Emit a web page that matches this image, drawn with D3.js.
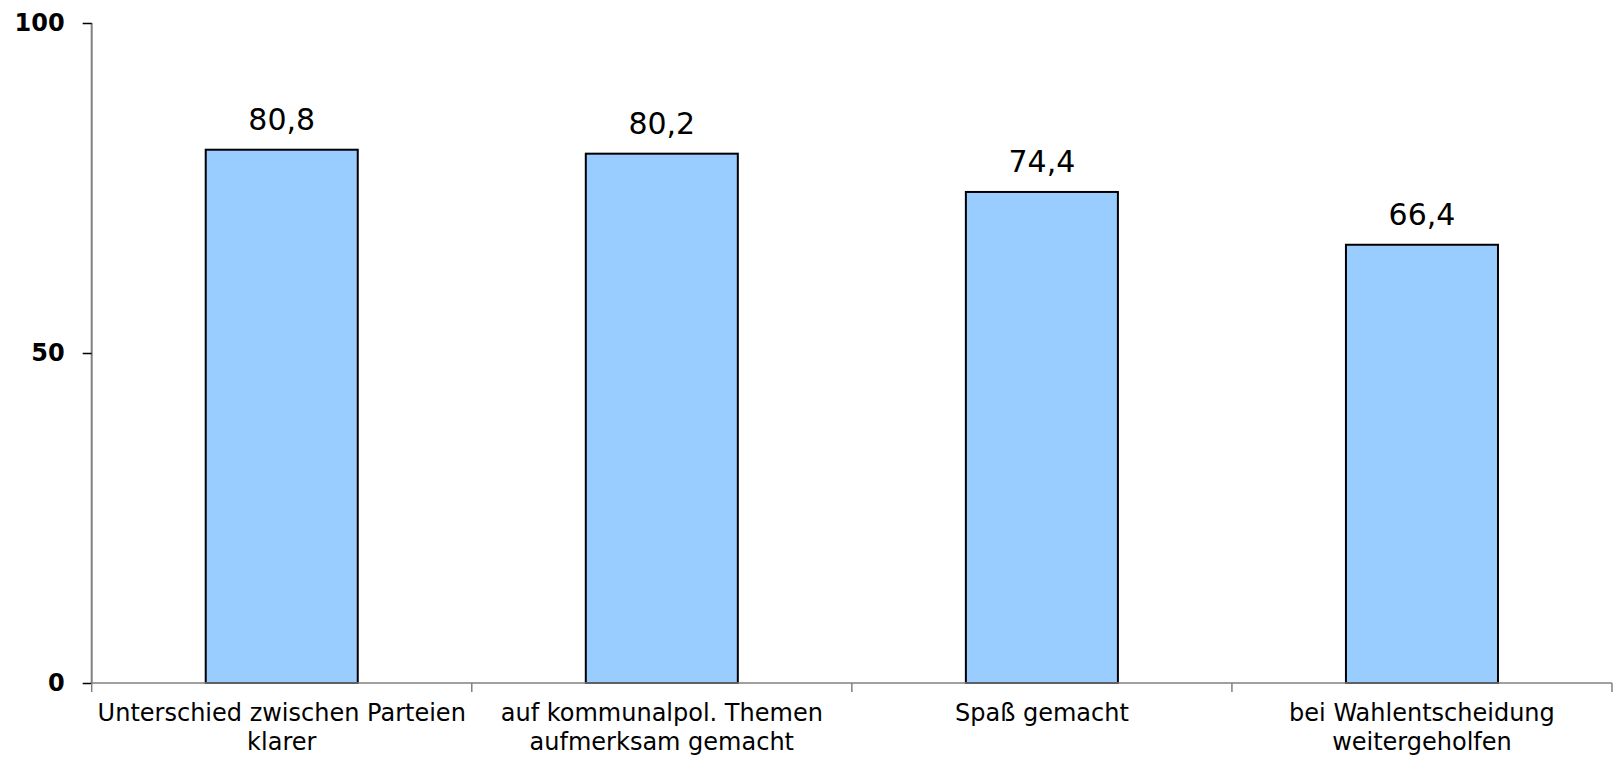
<!DOCTYPE html>
<html><head><meta charset="utf-8">
<script src="https://cdn.jsdelivr.net/npm/d3@7/dist/d3.min.js"></script>
<style>body{margin:0;background:#fff}svg{display:block}</style>
</head><body>
<svg id="chart" width="1613" height="761"></svg>
<script>
const categories = [
  ["Unterschied zwischen Parteien", "klarer"],
  ["auf kommunalpol. Themen", "aufmerksam gemacht"],
  ["Spaß gemacht"],
  ["bei Wahlentscheidung", "weitergeholfen"]
];
const values = [80.8, 80.2, 74.4, 66.4];
const yTicks = [0, 50, 100];

(function () {
const svg = d3.select("#chart");
const mLeft = 91.7, mRight = 1612, mTop = 23, mBottom = 683;
const ids = categories.map((c, i) => i);
const x = d3.scaleBand().domain(ids).range([mLeft, mRight]).paddingInner(0).paddingOuter(0);
const y = d3.scaleLinear().domain([0, 100]).range([mBottom, mTop]);
const font = "'DejaVu Sans', Verdana, sans-serif";
const axisColor = "#808080";

// bars
svg.selectAll("rect.bar").data(values).join("rect")
  .attr("class", "bar")
  .attr("x", (d, i) => x(i) + x.bandwidth() * 0.3)
  .attr("width", x.bandwidth() * 0.4)
  .attr("y", d => y(d))
  .attr("height", d => y(0) - y(d))
  .attr("fill", "#99CCFF")
  .attr("stroke", "#000")
  .attr("stroke-width", 2);

// value labels
svg.selectAll("text.val").data(values).join("text")
  .attr("class", "val")
  .attr("x", (d, i) => x(i) + x.bandwidth() / 2)
  .attr("y", d => y(d) - 20)
  .attr("text-anchor", "middle")
  .attr("font-family", font)
  .attr("font-size", 30)
  .attr("fill", "#000")
  .text(d => d.toFixed(1).replace(".", ","));

// y axis
const yAxis = d3.axisLeft(y).tickValues(yTicks).tickSize(9).tickPadding(18);
const gy = svg.append("g").attr("transform", `translate(${mLeft},0)`).call(yAxis);
gy.select(".domain").attr("stroke", axisColor).attr("stroke-width", 2).attr("d", `M0,${mTop}V${mBottom}`);
gy.selectAll(".tick line").attr("stroke", "#000").attr("stroke-width", 1.5);
gy.selectAll(".tick text").attr("font-family", font).attr("font-size", 24).attr("font-weight", "bold").attr("fill", "#000");

// x axis
const xAxis = d3.axisBottom(x).tickSize(0).tickFormat("");
const gx = svg.append("g").attr("transform", `translate(0,${mBottom})`).call(xAxis);
gx.select(".domain").attr("stroke", axisColor).attr("stroke-width", 1.5).attr("d", `M${mLeft},0H${mRight}`);
gx.selectAll(".tick").remove();
const bounds = ids.map(i => x(i)).concat([mRight]);
gx.selectAll("line.sep").data(bounds).join("line")
  .attr("class", "sep")
  .attr("x1", d => d).attr("x2", d => d)
  .attr("y1", 0).attr("y2", 9)
  .attr("stroke", axisColor).attr("stroke-width", 1.5);

// category labels
const cl = svg.selectAll("text.cat").data(categories).join("text")
  .attr("class", "cat")
  .attr("text-anchor", "middle")
  .attr("font-family", font)
  .attr("font-size", 24)
  .attr("fill", "#000");
cl.each(function(d, i) {
  const t = d3.select(this);
  d.forEach((line, j) => {
    t.append("tspan").attr("x", x(i) + x.bandwidth() / 2).attr("y", 721 + j * 29).text(line);
  });
});
})();
</script>
</body></html>
